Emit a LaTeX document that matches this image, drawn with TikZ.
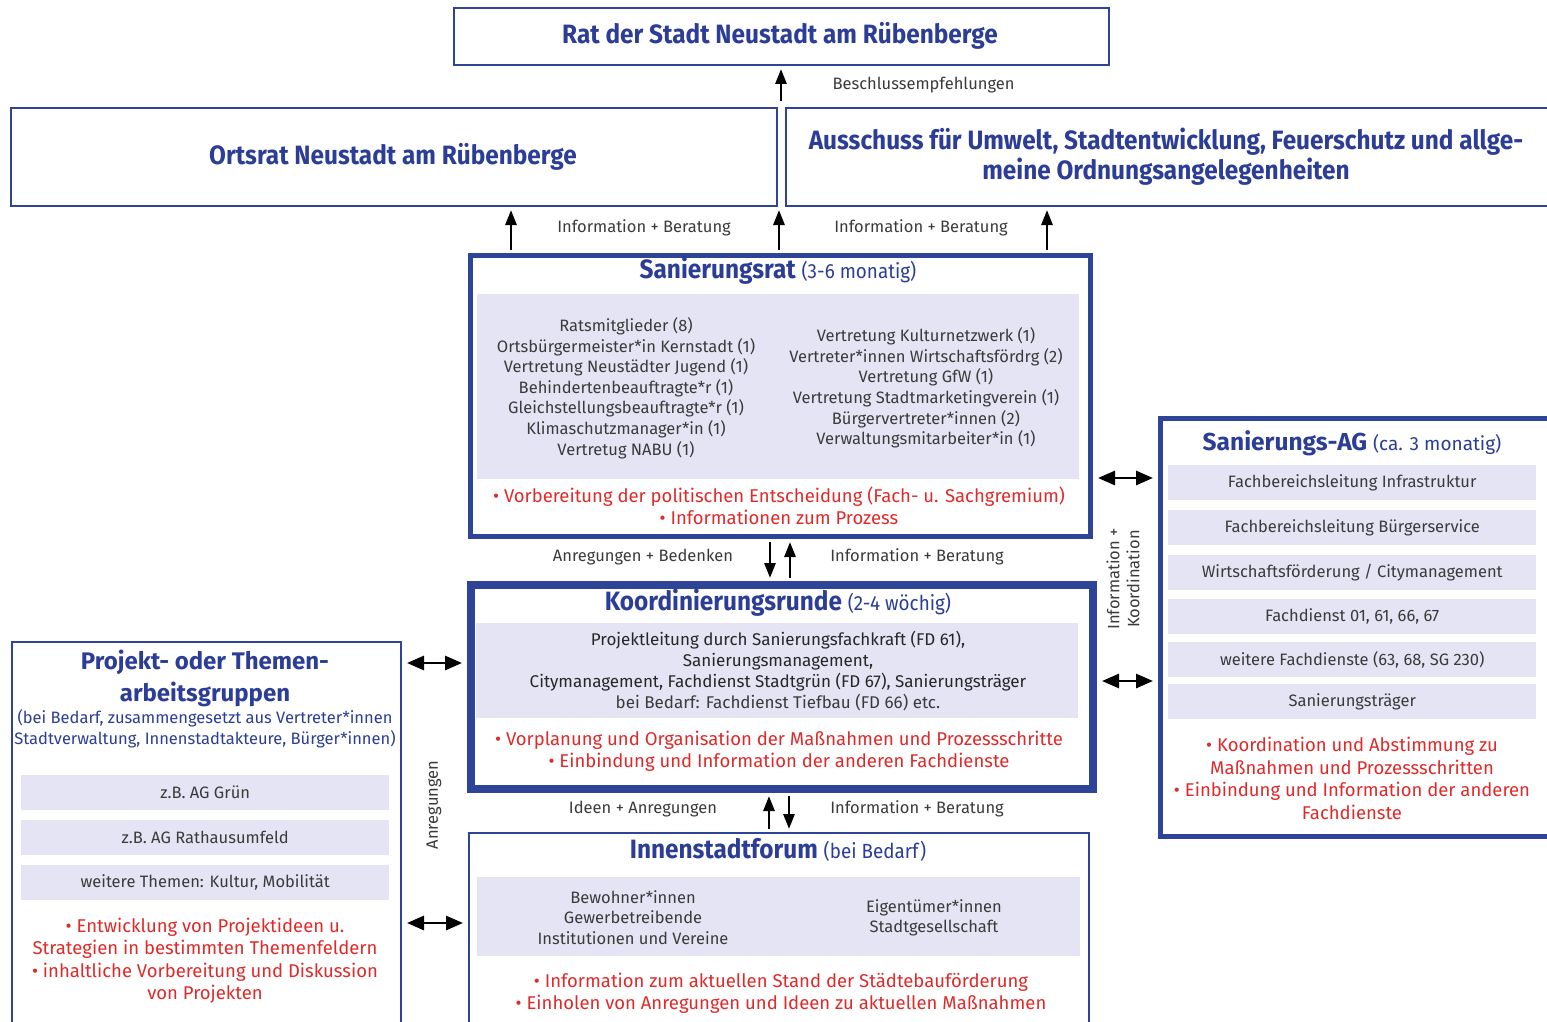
\documentclass[tikz,border=0pt]{standalone}
\usepackage{fontspec}
\setmainfont{Fira Sans}
\newfontfamily\condfont{Fira Sans}[FakeStretch=0.92]
\usepackage{xcolor}
\usetikzlibrary{arrows.meta}

\definecolor{rsblue}{HTML}{2E4499}
\definecolor{ttlblue}{HTML}{2B3D97}
\definecolor{rsred}{HTML}{E02A2A}
\definecolor{panelbg}{HTML}{E4E4F5}
\definecolor{txtgray}{HTML}{3A3A3A}

\newcommand\ttlfont{\condfont\bfseries\fontsize{26.5}{30}\selectfont}
\newcommand\subfont{\mdseries\fontsize{20.5}{24}\selectfont}

\tikzset{
  box/.style={draw=rsblue, line width=2pt, fill=white, anchor=north west, inner sep=0pt},
  panel/.style={fill=panelbg, anchor=north west, inner sep=0pt},
  ttl/.style={font=\ttlfont, text=ttlblue, align=center},
  body/.style={font=\fontsize{16.5}{20.6}\selectfont, text=txtgray, align=center},
  redtxt/.style={font=\fontsize{18.5}{22.5}\selectfont, text=rsred, align=center},
  lbl/.style={font=\fontsize{16.5}{20}\selectfont, text=txtgray, align=center},
  arr/.style={line width=2.8pt, -{Triangle[length=15pt,width=11pt]}, shorten <=3pt, shorten >=3pt},
  dbl/.style={line width=2.8pt, {Triangle[length=17pt,width=14pt]}-{Triangle[length=17pt,width=14pt]}, shorten <=5pt, shorten >=5pt}
}

\begin{document}
\begin{tikzpicture}[x=1pt, y=-1pt]
\useasboundingbox (0,0) rectangle (1547,1022);

% Gremien oben
\node[box, minimum width=655pt, minimum height=57pt] (rat) at (453,7) {};
\node[ttl] (rattxt) at (780,36) {Rat der Stadt Neustadt am Rübenberge};
\node[box, minimum width=766pt, minimum height=98pt] (ortsrat) at (10,107) {};
\node[ttl] (ortsrattxt) at (393,157) {Ortsrat Neustadt am Rübenberge};
\node[box, minimum width=770pt, minimum height=98pt] (aussch) at (785,107) {};
\node[ttl] (ausschtxt) at (1166,157) {Ausschuss für Umwelt, Stadtentwicklung, Feuerschutz und allge-\\meine Ordnungsangelegenheiten};

% Sanierungsrat
\node[box, line width=5pt, minimum width=620pt, minimum height=281pt] (srat) at (468,253) {};
\node[ttl] (srattl) at (778,271) {Sanierungsrat {\subfont (3-6 monatig)}};
\node[panel, minimum width=602pt, minimum height=185pt] (sratpnl) at (477,294) {};
\node[body] (sratl) at (626,388) {Ratsmitglieder (8)\\Ortsbürgermeister*in Kernstadt (1)\\Vertretung Neustädter Jugend (1)\\Behindertenbeauftragte*r (1)\\Gleichstellungsbeauftragte*r (1)\\Klimaschutzmanager*in (1)\\Vertretug NABU (1)};
\node[body] (sratr) at (926,388) {Vertretung Kulturnetzwerk (1)\\Vertreter*innen Wirtschaftsfördrg (2)\\Vertretung GfW (1)\\Vertretung Stadtmarketingverein (1)\\Bürgervertreter*innen (2)\\Verwaltungsmitarbeiter*in (1)};
\node[redtxt] (sratred) at (779,506) {• Vorbereitung der politischen Entscheidung (Fach- u. Sachgremium)\\• Informationen zum Prozess};

% Koordinierungsrunde
\node[box, line width=8pt, minimum width=622pt, minimum height=204pt] (koord) at (467,581) {};
\node[ttl] (koordtl) at (778,603) {Koordinierungsrunde {\subfont (2-4 wöchig)}};
\node[panel, minimum width=602pt, minimum height=95pt] (koordpnl) at (476,623) {};
\node[body, font=\fontsize{17}{21}\selectfont, text=black!85] (koordtxt) at (778,671.5) {Projektleitung durch Sanierungsfachkraft (FD 61),\\Sanierungsmanagement,\\Citymanagement, Fachdienst Stadtgrün (FD 67), Sanierungsträger\\{\color{txtgray}bei Bedarf: Fachdienst Tiefbau (FD 66) etc.}};
\node[redtxt] (koordred) at (779,751) {• Vorplanung und Organisation der Maßnahmen und Prozessschritte\\• Einbindung und Information der anderen Fachdienste};

% Innenstadtforum
\node[box, minimum width=620pt, minimum height=200pt] (forum) at (468,832) {};
\node[ttl] (forumtl) at (778,850) {Innenstadtforum {\subfont (bei Bedarf)}};
\node[panel, minimum width=603pt, minimum height=79pt] (forumpnl) at (477,877) {};
\node[body] (foruml) at (633,917.5) {Bewohner*innen\\Gewerbetreibende\\Institutionen und Vereine};
\node[body] (forumr) at (934,918) {Eigentümer*innen\\Stadtgesellschaft};
\node[redtxt] (forumred) at (781,993) {• Information zum aktuellen Stand der Städtebauförderung\\• Einholen von Anregungen und Ideen zu aktuellen Maßnahmen};

% Arbeitsgruppen links
\node[box, minimum width=389pt, minimum height=400pt] (proj) at (11,641) {};
\node[font=\bfseries\fontsize{24}{32}\selectfont, text=ttlblue, align=center] (projtl) at (205,678) {Projekt- oder Themen-\\arbeitsgruppen};
\node[body, text=ttlblue] (projsub) at (205,728.5) {(bei Bedarf, zusammengesetzt aus Vertreter*innen\\Stadtverwaltung, Innenstadtakteure, Bürger*innen)};
\foreach \y/\t [count=\i] in {775/z.B. AG Grün, 820/z.B. AG Rathausumfeld, 865/{weitere Themen: Kultur, Mobilität}}{
  \node[panel, minimum width=368pt, minimum height=35pt] (projp\i) at (21,\y) {};
  \node[body] (projt\i) at (projp\i.center) {\t};
}
\node[redtxt] (projred) at (205,960.5) {• Entwicklung von Projektideen u.\\Strategien in bestimmten Themenfeldern\\• inhaltliche Vorbereitung und Diskussion\\von Projekten};

% Sanierungs-AG rechts
\node[box, line width=4.5pt, minimum width=402pt, minimum height=418pt] (sag) at (1158,416) {};
\node[font=\bfseries\fontsize{24.5}{28}\selectfont, text=ttlblue] (sagtl) at (1352,443) {Sanierungs-AG {\mdseries\fontsize{19}{22}\selectfont (ca. 3 monatig)}};
\foreach \y/\t [count=\i] in {465/Fachbereichsleitung Infrastruktur, 510/Fachbereichsleitung Bürgerservice, 555/{Wirtschaftsförderung / Citymanagement}, 599/{Fachdienst 01, 61, 66, 67}, 642/{weitere Fachdienste (63, 68, SG 230)}, 684/Sanierungsträger}{
  \node[panel, minimum width=368pt, minimum height=35pt] (sagp\i) at (1168,\y) {};
  \node[body] (sagt\i) at (sagp\i.center) {\t};
}
\node[redtxt] (sagred) at (1352,778.5) {• Koordination und Abstimmung zu\\Maßnahmen und Prozessschritten\\• Einbindung und Information der anderen\\Fachdienste};

% Verbindungen
\coordinate (gap) at (781,104);
\draw[arr] (gap) -- (rat.south -| gap);
\node[lbl, anchor=west] (beschl) at (829,85) {Beschlussempfehlungen};

\draw[arr] (srat.north -| 511,0) -- (ortsrat.south -| 511,0);
\draw[arr] (srat.north -| 779,0) -- (ortsrat.south -| 779,0);
\draw[arr] (srat.north -| 1047,0) -- (aussch.south -| 1047,0);
\node[lbl] (infob1) at (644,228) {Information + Beratung};
\node[lbl] (infob2) at (921,228) {Information + Beratung};

\draw[arr] (srat.south -| 770,0) -- (koord.north -| 770,0);
\draw[arr] (koord.north -| 790,0) -- (srat.south -| 790,0);
\node[lbl] (anbed) at (643,557) {Anregungen + Bedenken};
\node[lbl] (infob3) at (917,557) {Information + Beratung};

\draw[arr] (forum.north -| 769,0) -- (koord.south -| 769,0);
\draw[arr] (koord.south -| 789,0) -- (forum.north -| 789,0);
\node[lbl] (ideen) at (643,809) {Ideen + Anregungen};
\node[lbl] (infob4) at (917,809) {Information + Beratung};

\draw[dbl] (proj.east |- 0,663) -- (koord.west |- 0,663);
\draw[dbl] (proj.east |- 0,923) -- (forum.west |- 0,923);
\node[lbl, rotate=90] (anreg) at (434,805) {Anregungen};

\draw[dbl] (srat.east |- 0,478) -- (sag.west |- 0,478);
\draw[dbl] (koord.east |- 0,681) -- (sag.west |- 0,681);
\node[lbl, rotate=90] (infokoord) at (1123,579) {Information +\\Koordination};
\end{tikzpicture}
\end{document}
